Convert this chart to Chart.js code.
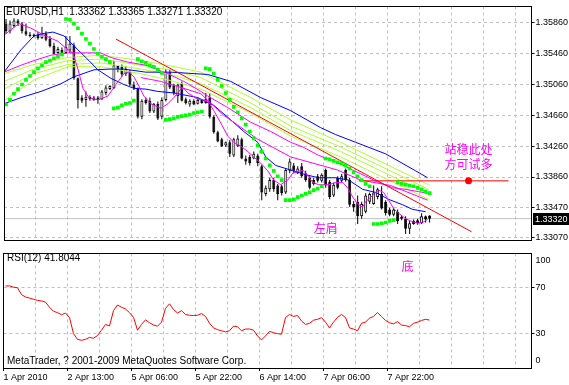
<!DOCTYPE html>
<html>
<head>
<meta charset="utf-8">
<script src="https://cdn.jsdelivr.net/npm/chart.js@4.4.0/dist/chart.umd.min.js"></script>
<style>
    body { margin: 0; background: #fff; }
    #wrap { position: relative; width: 569px; height: 385px; overflow: hidden; }
    canvas { position: absolute; left: 0; }
    #mainChart { top: 0; }
    #rsiChart { top: 247px; }
</style>
</head>
<body>
<div id="wrap">
    <canvas id="mainChart" width="569" height="247"></canvas>
    <canvas id="rsiChart" width="569" height="138"></canvas>
</div>
<script>
// EURUSD H1 candles, bar k sits at x = k + 0.5
const candleOpen = [1.3585,1.3575,1.3582,1.3589,1.3585,1.3575,1.3571,1.3569,1.3571,1.3566,
    1.3572,1.3565,1.3556,1.3547,1.3551,1.3547,1.3550,1.3557,1.3514,1.3489,
    1.3486,1.3490,1.3486,1.3489,1.3487,1.3495,1.3500,1.3501,1.3530,1.3529,
    1.3520,1.3522,1.3506,1.3500,1.3464,1.3486,1.3485,1.3471,1.3481,1.3464,
    1.3486,1.3522,1.3505,1.3491,1.3507,1.3487,1.3480,1.3485,1.3481,1.3486,
    1.3482,1.3489,1.3464,1.3444,1.3435,1.3427,1.3431,1.3414,1.3426,1.3435,
    1.3410,1.3412,1.3410,1.3414,1.3400,1.3364,1.3370,1.3382,1.3375,1.3374,
    1.3366,1.3394,1.3401,1.3391,1.3400,1.3391,1.3385,1.3382,1.3387,1.3381,
    1.3395,1.3380,1.3362,1.3385,1.3381,1.3395,1.3382,1.3351,1.3354,1.3335,
    1.3341,1.3354,1.3351,1.3360,1.3364,1.3354,1.3344,1.3337,1.3341,1.3334,
    1.3332,1.3319,1.3329,1.3330,1.3326,1.3335,1.33362];
const candleHigh = [1.3591,1.3589,1.3592,1.3591,1.3587,1.3585,1.3574,1.3572,1.3574,1.3581,
    1.3575,1.3569,1.3560,1.3555,1.3554,1.3569,1.3569,1.3560,1.3515,1.3492,
    1.3497,1.3492,1.3491,1.3491,1.3499,1.3505,1.3505,1.3537,1.3531,1.3532,
    1.3530,1.3525,1.3510,1.3502,1.3487,1.3489,1.3489,1.3482,1.3484,1.3489,
    1.3526,1.3525,1.3507,1.3507,1.3510,1.3489,1.3487,1.3487,1.3489,1.3487,
    1.3495,1.3495,1.3466,1.3446,1.3437,1.3432,1.3434,1.3437,1.3440,1.3437,
    1.3414,1.3415,1.3419,1.3416,1.3402,1.3375,1.3385,1.3385,1.3377,1.3376,
    1.3397,1.3410,1.3404,1.3400,1.3404,1.3394,1.3387,1.3385,1.3390,1.3391,
    1.3397,1.3382,1.3379,1.3387,1.3390,1.3397,1.3385,1.3355,1.3362,1.3354,
    1.3365,1.3366,1.3375,1.3372,1.3374,1.3356,1.3346,1.3346,1.3344,1.3336,
    1.3335,1.3329,1.3331,1.3332,1.3339,1.3336,1.33365];
const candleLow = [1.3572,1.3572,1.3580,1.3582,1.3572,1.3569,1.3567,1.3567,1.3564,1.3565,
    1.3562,1.3554,1.3545,1.3546,1.3545,1.3546,1.3547,1.3512,1.3475,1.3482,
    1.3477,1.3485,1.3485,1.3481,1.3486,1.3492,1.3499,1.3500,1.3522,1.3516,
    1.3517,1.3504,1.3499,1.3462,1.3461,1.3480,1.3469,1.3469,1.3460,1.3461,
    1.3484,1.3500,1.3492,1.3482,1.3484,1.3480,1.3477,1.3479,1.3480,1.3481,
    1.3481,1.3462,1.3442,1.3431,1.3425,1.3425,1.3412,1.3412,1.3425,1.3409,
    1.3402,1.3401,1.3409,1.3400,1.3356,1.3361,1.3367,1.3367,1.3356,1.3362,
    1.3364,1.3391,1.3391,1.3390,1.3385,1.3380,1.3370,1.3375,1.3379,1.3379,
    1.3372,1.3357,1.3360,1.3370,1.3379,1.3380,1.3347,1.3341,1.3325,1.3332,
    1.3339,1.3351,1.3350,1.3357,1.3344,1.3336,1.3335,1.3335,1.3325,1.3330,
    1.3312,1.3312,1.3324,1.3324,1.3325,1.3327,1.33271];
const candleClose = [1.3575,1.3585,1.3589,1.3585,1.3575,1.3571,1.3569,1.3571,1.3566,1.3572,
    1.3564,1.3556,1.3546,1.3552,1.3546,1.3555,1.3559,1.3514,1.3486,1.3485,
    1.3490,1.3487,1.3489,1.3486,1.3497,1.3502,1.3504,1.3531,1.3526,1.3519,
    1.3526,1.3506,1.3501,1.3464,1.3485,1.3482,1.3471,1.3481,1.3462,1.3486,
    1.3522,1.3502,1.3495,1.3506,1.3485,1.3482,1.3485,1.3480,1.3486,1.3482,
    1.3487,1.3464,1.3444,1.3432,1.3426,1.3431,1.3416,1.3435,1.3436,1.3410,
    1.3406,1.3404,1.3416,1.3404,1.3366,1.3372,1.3382,1.3370,1.3364,1.3365,
    1.3395,1.3406,1.3394,1.3397,1.3387,1.3382,1.3372,1.3377,1.3381,1.3389,
    1.3375,1.3360,1.3376,1.3372,1.3387,1.3382,1.3350,1.3347,1.3335,1.3351,
    1.3362,1.3364,1.3366,1.3370,1.3345,1.3339,1.3337,1.3344,1.3329,1.3332,
    1.3319,1.3326,1.3325,1.3326,1.3335,1.3331,1.33320];

// parabolic SAR, one dot per bar
const sarValues = [1.3480,1.3486,1.3494,1.3500,1.3506,1.3512,1.3517,1.3522,1.3527,1.3531,1.3535,1.3537,1.3540,1.3542,1.3545,
    1.3591,1.3590,1.3585,1.3579,1.3572,1.3565,1.3559,1.3552,1.3546,1.3542,1.3539,1.3535,
    1.3475,1.3476,1.3479,1.3481,1.3482,1.3485,
    1.3539,1.3536,1.3534,1.3531,1.3529,1.3525,1.3521,
    1.3460,1.3461,1.3462,1.3464,1.3465,1.3466,1.3467,1.3469,1.3470,1.3471,
    1.3527,1.3526,1.3520,1.3512,1.3504,1.3495,1.3486,1.3477,1.3470,1.3462,1.3454,1.3445,1.3436,1.3427,1.3419,1.3410,1.3401,1.3394,1.3387,1.3382,
    1.3356,1.3356,1.3357,1.3360,1.3362,1.3364,1.3366,1.3369,1.3371,1.3374,
    1.3410,1.3409,1.3407,1.3405,1.3404,1.3401,1.3397,1.3392,1.3387,1.3382,1.3377,1.3374,
    1.3325,1.3325,1.3326,1.3327,1.3329,1.3330,
    1.3379,1.3377,1.3376,1.3375,1.3374,1.3372,1.3370,1.3367,1.3365];

// RSI(12), one value per bar
const rsiLast = 41.8044;
const rsiValues = [71.5,71.7,70.5,70,64,62,61,60,59,58.5,
    57.5,53,49.5,48.3,46.5,48,44,30,25,24.2,
    25,26.7,26,28.3,33,38,36.7,50,55,53,
    51.5,48.3,44.2,33,38,42,39.5,37.5,36.5,40,
    52,56,51,48,50,46.7,46,45.8,46,47.5,
    45,39,35,33.5,32.5,31.5,32.5,36.5,36,32.5,
    34,34,33,28,24.5,28,32,30.8,30,29.5,
    44,46.7,45,45.8,41,38,39,41.7,42.5,44,
    40,35,40,44.2,46.7,44,35,34,32.5,39,
    40,43.5,45,48.3,45,41.5,39.5,38.5,40.5,37.5,
    37,36,39,40,41.5,42.5,rsiLast];

// indicator lines: [bar position, price]
const blueSlow = [[0,1.3481],[4.25,1.3489],[9.25,1.3497],[14.25,1.3507],[17.5,1.3516],[22.5,1.3525],[26.75,1.3526],[30,1.3526],
    [35.5,1.3522],[41.75,1.3522],[51,1.3519],[56.75,1.3510],[64.25,1.3489],[71.75,1.3472],[79.25,1.3450],[83,1.3441],
    [88,1.3431],[95.5,1.3416],[103,1.3394],[106,1.3385]];
const blueFast = [[0,1.3522],[4.25,1.3551],[7.5,1.3569],[9.75,1.3572],[12.25,1.3574],[15,1.3569],[18.5,1.3551],[21.25,1.3537],
    [23.5,1.3525],[26.75,1.3514],[30,1.3506],[32.5,1.3501],[35.5,1.3500],[38.5,1.3497],[42.5,1.3495],[48.5,1.3489],
    [52.5,1.3479],[56.75,1.3460],[60,1.3445],[63.5,1.3431],[65.5,1.3412],[68,1.3401],[71.75,1.3395],[75.5,1.3389],
    [78.75,1.3385],[83,1.3385],[86.25,1.3382],[89.75,1.3370],[93,1.3366],[96.25,1.3357],[99.75,1.3350],[102.25,1.3344],[105.5,1.3341]];
const magentaFast = [[0,1.3570],[3.75,1.3585],[6.75,1.3579],[10,1.3570],[13.5,1.3562],[16,1.3551],[17.25,1.3547],[18.5,1.3526],
    [19.75,1.3501],[21.25,1.3489],[23.5,1.3486],[26,1.3491],[28,1.3506],[30,1.3520],[31.25,1.3522],[32.5,1.3516],
    [33.75,1.3504],[35,1.3491],[36.75,1.3481],[39.25,1.3475],[41,1.3481],[42.5,1.3489],[44.25,1.3500],[45,1.3501],
    [46,1.3495],[48.5,1.3487],[51,1.3485],[52.5,1.3472],[54.25,1.3456],[56,1.3439],[57.5,1.3431],[59.25,1.3426],
    [61,1.3419],[62.5,1.3412],[64.25,1.3404],[66,1.3394],[67.5,1.3382],[69.25,1.3376],[71,1.3382],[72.25,1.3391],
    [74.75,1.3395],[75.5,1.3391],[77.25,1.3379],[78.75,1.3376],[81.25,1.3376],[83,1.3379],[84.75,1.3379],[86,1.3372],
    [87.25,1.3360],[88.5,1.3351],[89.75,1.3347],[90.5,1.3354],[92.25,1.3362],[93.75,1.3369],[95,1.3366],[96.25,1.3356],
    [97.5,1.3345],[98.75,1.3339],[100.5,1.3332],[101.75,1.3329],[103.5,1.3326],[104.75,1.3327],[106,1.3331]];
const magentaMid = [[34.25,1.3515],[39.25,1.3510],[45,1.3501],[49.25,1.3494],[55,1.3466],[63.5,1.3435],[71.75,1.3412],
    [83.5,1.3395],[89.25,1.3382],[96.75,1.3375],[106,1.3356]];
const magentaSlow = [[0,1.3522],[4.25,1.3531],[7.5,1.3537],[11.75,1.3544],[16,1.3547],[24.25,1.3547],[26.75,1.3541],
    [31,1.3535],[35.5,1.3531],[41,1.3520],[45,1.3510],[49.25,1.3497],[51,1.3491],[56,1.3476],[61.75,1.3457],
    [66.75,1.3445],[71.75,1.3431],[74.75,1.3425],[78.75,1.3414],[83,1.3406],[87.25,1.3395],[90.5,1.3387],
    [93.75,1.3379],[97.25,1.3372],[100.5,1.3370],[103.75,1.3367],[106,1.3365]];
const ribbonX = [0, 7.5, 16, 24.25, 34.25, 41.75, 49.25, 61.75, 71.75, 84.25, 94.25, 106.25];
const ribbon1 = [1.3520,1.3532,1.3541,1.3544,1.3537,1.3530,1.3522,1.3489,1.3460,1.3431,1.3406,1.3376];
const ribbon2 = [1.3510,1.3526,1.3537,1.3539,1.3531,1.3525,1.3515,1.3482,1.3452,1.3425,1.3400,1.3370];
const ribbon3 = [1.3500,1.3520,1.3532,1.3534,1.3526,1.3519,1.3507,1.3476,1.3446,1.3419,1.3394,1.3364];
const ribbon4 = [1.3485,1.3512,1.3529,1.3529,1.3520,1.3511,1.3500,1.3469,1.3439,1.3412,1.3387,1.3357];

// hand drawn objects
const trendLine = [[28,1.3565],[117,1.3315]];
const supportLine = [[88.75,1.3381],[126.25,1.3381]];
const supportDot = [[116.25,1.3381]];
const bidPrice = 1.33320;

// axes
const priceTicks = [1.33070,1.33470,1.33860,1.34260,1.34660,1.35060,1.35460,1.35860];
const rsiTicks = [30, 70];
const timeLabels = ["1 Apr 2010","2 Apr 13:00","5 Apr 06:00","5 Apr 22:00","6 Apr 14:00","7 Apr 06:00","7 Apr 22:00"];
const barsOnScreen = 132;

const notes = [
    { text: "站稳此处", u: 110.25, p: 1.3422 },
    { text: "方可试多", u: 110.25, p: 1.3402 },
    { text: "左肩", u: 77.5, p: 1.3319 }
];
const rsiNote = { text: "底", u: 99.5, v: 89 };

const gridColor = "#c0c0c0";
const axisFont = { family: "Liberation Sans", size: 9 };

function toPoints(pairs) {
    return pairs.map(([u, p]) => ({ x: u, y: p }));
}
function ribbonPoints(vals) {
    return vals.map((p, i) => ({ x: ribbonX[i], y: p }));
}
function lineSet(data, color, order) {
    return {
        type: "line", data: data, borderColor: color, borderWidth: 1,
        pointRadius: 0, tension: 0, fill: false, order: order
    };
}
function timeGrid(scale) {
    const t = [];
    for (let v = 0; v <= barsOnScreen; v += 8) t.push({ value: v });
    scale.ticks = t;
}
function isLabelled(v) {
    return v % 16 === 0 && v / 16 < timeLabels.length;
}

// black frame round each panel
const framePlugin = {
    id: "framePlugin",
    afterDraw(chart) {
        const { ctx, chartArea: a } = chart;
        const l = Math.floor(a.left), t = Math.floor(a.top);
        const r = Math.floor(a.right), b = Math.floor(a.bottom);
        ctx.save();
        ctx.strokeStyle = "#000";
        ctx.lineWidth = 1;
        ctx.strokeRect(l + 0.5, t + 0.5, r - l, b - t);
        ctx.restore();
    }
};

const mainTextPlugin = {
    id: "mainText",
    afterDraw(chart) {
        const { ctx, scales } = chart;
        const last = candleOpen.length - 1;
        ctx.save();
        ctx.fillStyle = "#000";
        ctx.font = '10px "Liberation Sans"';
        ctx.textBaseline = "alphabetic";
        ctx.fillText("EURUSD,H1  " + [candleOpen[last], candleHigh[last], candleLow[last], candleClose[last]]
            .map(v => v.toFixed(5)).join(" "), 6, 15);

        // current price box on the price axis
        const by = Math.round(scales.y.getPixelForValue(bidPrice));
        ctx.fillRect(533, by - 6, 36, 12);
        ctx.fillStyle = "#fff";
        ctx.font = '9px "Liberation Sans"';
        ctx.textBaseline = "middle";
        ctx.fillText(bidPrice.toFixed(5), 535, by + 0.5);

        ctx.fillStyle = "#ff00ff";
        ctx.font = '12px "Noto Sans CJK SC"';
        notes.forEach(n => {
            ctx.fillText(n.text, scales.x.getPixelForValue(n.u), scales.y.getPixelForValue(n.p));
        });
        ctx.restore();
    }
};

const rsiTextPlugin = {
    id: "rsiText",
    afterDraw(chart) {
        const { ctx, scales, chartArea } = chart;
        ctx.save();
        ctx.fillStyle = "#000";
        ctx.font = '10px "Liberation Sans"';
        ctx.textBaseline = "alphabetic";
        ctx.fillText("RSI(12) " + rsiLast.toFixed(4), 7, 14);
        ctx.fillText("MetaTrader, ? 2001-2009 MetaQuotes Software Corp.", 7, 117);

        // 100 and 0 sit just inside the panel
        ctx.font = '9px "Liberation Sans"';
        ctx.textBaseline = "middle";
        ctx.fillText("100", chartArea.right + 4, scales.y.getPixelForValue(100) + 7);
        ctx.fillText("0", chartArea.right + 4, scales.y.getPixelForValue(0) - 7);

        ctx.fillStyle = "#ff00ff";
        ctx.font = '12px "Noto Sans CJK SC"';
        ctx.fillText(rsiNote.text, scales.x.getPixelForValue(rsiNote.u), scales.y.getPixelForValue(rsiNote.v));
        ctx.restore();
    }
};

const bars = candleOpen.map((o, k) => k + 0.5);

const candleBodies = {
    type: "bar",
    data: bars.map((x, k) => ({ x: x, y: [candleOpen[k], candleClose[k]] })),
    backgroundColor: bars.map((x, k) => (candleClose[k] >= candleOpen[k] ? "#fff" : "#000")),
    borderColor: "#000",
    borderWidth: 1,
    borderSkipped: false,
    barThickness: 3,
    grouped: false,
    inflateAmount: 0,
    order: 4
};
const candleWicks = {
    type: "bar",
    data: bars.map((x, k) => ({ x: x, y: [candleLow[k], candleHigh[k]] })),
    backgroundColor: "#000",
    borderWidth: 0,
    barThickness: 1,
    grouped: false,
    inflateAmount: 0,
    order: 5
};

const mainChart = new Chart(document.getElementById("mainChart"), {
    type: "line",
    data: {
        datasets: [
            {
                type: "line",
                data: bars.map((x, k) => ({ x: x, y: sarValues[k] })),
                showLine: false,
                pointStyle: "rect",
                pointRadius: 2.6,
                pointBackgroundColor: "#00ff00",
                pointBorderWidth: 0,
                order: 1
            },
            {
                type: "line",
                data: toPoints(supportDot),
                showLine: false,
                pointRadius: 3.5,
                pointBackgroundColor: "#ff0000",
                pointBorderWidth: 0,
                order: 1
            },
            lineSet(toPoints(trendLine), "#ff0000", 2),
            lineSet(toPoints(supportLine), "#ff0000", 2),
            lineSet(toPoints(magentaFast), "#ff00ff", 3),
            lineSet(toPoints(magentaMid), "#ff00ff", 3),
            lineSet(toPoints(magentaSlow), "#ff00ff", 3),
            lineSet(toPoints(blueFast), "#0000ff", 3),
            lineSet(toPoints(blueSlow), "#0000ff", 3),
            lineSet(ribbonPoints(ribbon1), "#adff2f", 3),
            lineSet(ribbonPoints(ribbon2), "#adff2f", 3),
            lineSet(ribbonPoints(ribbon3), "#adff2f", 3),
            lineSet(ribbonPoints(ribbon4), "#adff2f", 3),
            candleBodies,
            candleWicks,
            lineSet([{ x: 0, y: bidPrice }, { x: barsOnScreen, y: bidPrice }], gridColor, 6)
        ]
    },
    options: {
        responsive: false,
        animation: false,
        events: [],
        layout: { padding: { left: 3.5, top: 2, right: 0, bottom: 2 } },
        plugins: { legend: { display: false }, tooltip: { enabled: false } },
        scales: {
            x: {
                type: "linear",
                min: 0,
                max: barsOnScreen,
                offset: false,
                afterBuildTicks: timeGrid,
                afterFit: (s) => { s.height = 0; },
                ticks: { display: false },
                grid: { color: gridColor, drawTicks: false, offset: false, borderDash: [3, 3] },
                border: { display: false, dash: [3, 3] }
            },
            y: {
                type: "linear",
                position: "right",
                min: 1.33035,
                max: 1.36073,
                afterBuildTicks: (s) => { s.ticks = priceTicks.map(v => ({ value: v })); },
                afterFit: (s) => { s.width = 37.5; },
                ticks: {
                    color: "#000",
                    font: axisFont,
                    padding: 1,
                    callback: (v) => Number(v).toFixed(5)
                },
                grid: { color: gridColor, tickColor: "#000", tickLength: 3, borderDash: [3, 3], tickBorderDash: [] },
                border: { display: false, dash: [3, 3] }
            }
        }
    },
    plugins: [mainTextPlugin, framePlugin]
});

const rsiChart = new Chart(document.getElementById("rsiChart"), {
    type: "line",
    data: {
        datasets: [
            lineSet(bars.map((x, k) => ({ x: x, y: rsiValues[k] })), "#ff0000", 1)
        ]
    },
    options: {
        responsive: false,
        animation: false,
        events: [],
        layout: { padding: { left: 3.5, top: 1, right: 0, bottom: 0 } },
        plugins: { legend: { display: false }, tooltip: { enabled: false } },
        scales: {
            x: {
                type: "linear",
                min: 0,
                max: barsOnScreen,
                afterBuildTicks: timeGrid,
                afterFit: (s) => { s.height = 17; },
                ticks: {
                    color: "#000",
                    font: axisFont,
                    align: "start",
                    maxRotation: 0,
                    autoSkip: false,
                    padding: 1,
                    callback: (v) => (isLabelled(v) ? timeLabels[v / 16] : "")
                },
                grid: {
                    color: gridColor,
                    tickLength: 3,
                    tickColor: (c) => (c.tick && isLabelled(c.tick.value) ? "#000" : "rgba(0,0,0,0)"),
                    borderDash: [3, 3],
                    tickBorderDash: []
                },
                border: { display: false, dash: [3, 3] }
            },
            y: {
                type: "linear",
                position: "right",
                min: 0,
                max: 100,
                afterBuildTicks: (s) => { s.ticks = rsiTicks.map(v => ({ value: v })); },
                afterFit: (s) => { s.width = 37.5; },
                ticks: { color: "#000", font: axisFont, padding: 1 },
                grid: { color: gridColor, tickColor: "#000", tickLength: 3, borderDash: [3, 3], tickBorderDash: [] },
                border: { display: false, dash: [3, 3] }
            }
        }
    },
    plugins: [rsiTextPlugin, framePlugin]
});
</script>
</body>
</html>
